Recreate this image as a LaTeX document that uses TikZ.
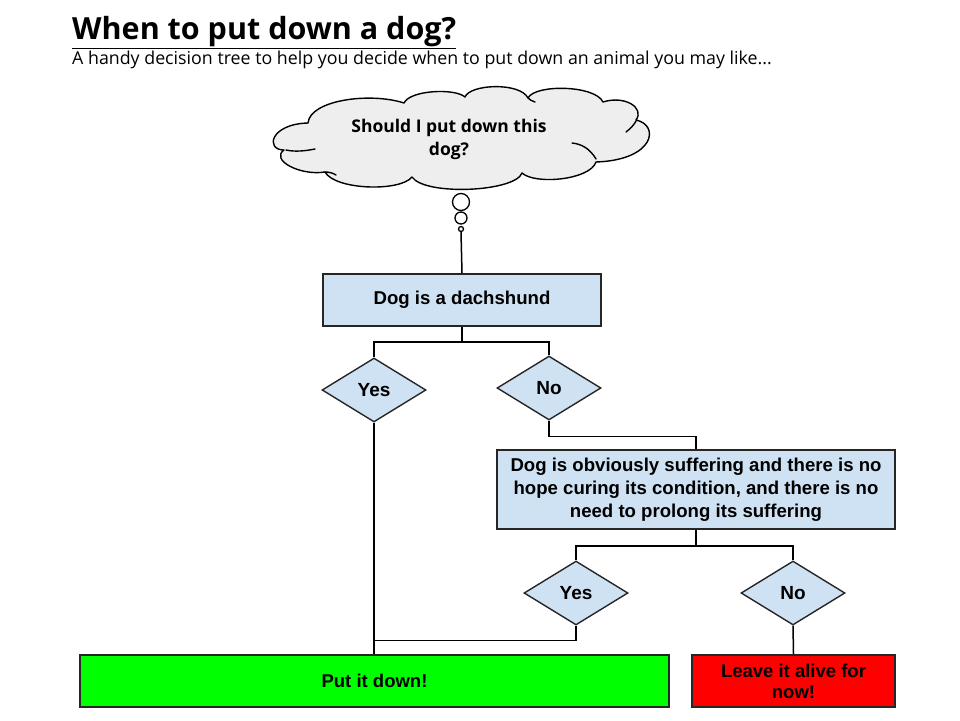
\documentclass[tikz,border=0pt]{standalone}
\usepackage{fontspec}
\setmainfont{Liberation Sans}
\newfontfamily\titlefont{Open Sans}
\usetikzlibrary{shapes.geometric}
\definecolor{boxblue}{HTML}{CFE2F3}
\definecolor{cloudgray}{HTML}{EEEEEE}
\definecolor{okgreen}{HTML}{00FF00}
\definecolor{nored}{HTML}{FF0000}
\tikzset{
  box/.style={draw=black!85, line width=1.6pt, fill=boxblue, align=center, font=\bfseries\fontsize{18.6}{23}\selectfont, inner sep=0pt},
  choice/.style={diamond, draw=black!85, line width=1.4pt, fill=boxblue, minimum width=104pt, minimum height=64pt, inner sep=0pt, font=\bfseries\fontsize{19}{22}\selectfont},
  conn/.style={line width=1.5pt, black},
  bubble/.style={circle, draw=black, line width=1.3pt, fill=white, inner sep=0pt},
  endbox/.style={box, minimum height=52pt, font=\bfseries\fontsize{18.5}{21}\selectfont},
  cloudline/.style={draw=black, line width=1.4pt, line join=round, line cap=round},
}
\begin{document}
\begin{tikzpicture}[x=1pt,y=-1pt]
\useasboundingbox (0,0) rectangle (960,720);
% title
\node[anchor=base west, inner sep=0pt, font=\titlefont\bfseries\fontsize{30.5}{34}\selectfont] (title) at (72,39) {\underline{When to put down a dog?}};
\node[anchor=base west, inner sep=0pt, font=\titlefont\fontsize{17.8}{20}\selectfont] (sub) at (72,64) {A handy decision tree to help you decide when to put down an animal you may like...};
% cloud outline
\path[cloudline, fill=cloudgray]
  (284,150) .. controls (265,150) and (270,124) .. (308,123)
  .. controls (310,100) and (370,92) .. (404,103)
  .. controls (410,90) and (455,88) .. (465,97)
  .. controls (470,84) and (520,82) .. (528,98)
  .. controls (535,84) and (595,85) .. (603,102)
  .. controls (625,95) and (645,108) .. (636,120)
  .. controls (660,125) and (655,160) .. (596,162)
  .. controls (590,180) and (535,185) .. (522,173)
  .. controls (515,192) and (425,196) .. (412,177)
  .. controls (400,192) and (335,190) .. (325,172)
  .. controls (300,176) and (270,160) .. (284,150) -- cycle;
% inner cloud strokes
\draw[cloudline] (286,150) .. controls (295,152) and (305,151) .. (315,149);
\draw[cloudline] (325,172) .. controls (329,172) and (333,173) .. (336,175);
\draw[cloudline] (572,143) .. controls (582,144) and (590,149) .. (596,159);
\draw[cloudline] (626,132) .. controls (630,129) and (634,125) .. (636,121);
\draw[cloudline] (528,98) .. controls (530,100) and (532,101) .. (535,102);
\node[inner sep=0pt, align=center, font=\titlefont\bfseries\fontsize{17.5}{23}\selectfont] (cloud) at (449,139) {Should I put down this\\dog?};
\node[bubble, minimum size=17pt] (c1) at (461,202) {};
\node[bubble, minimum size=12pt] (c2) at (461,218) {};
\node[bubble, minimum size=5pt] (c3) at (461,229) {};
% boxes
\node[box, minimum width=278pt, minimum height=52pt] (b1) at (462,300) {\raisebox{-1.5pt}{Dog is a dachshund}};
\node[choice] (y1) at (374,390) {\raisebox{-2pt}{Yes}};
\node[choice] (n1) at (549,388) {No};
\node[box, minimum width=398pt, minimum height=79pt] (b2) at (696,489.5) {Dog is obviously suffering and there is no\\hope curing its condition, and there is no\\need to prolong its suffering};
\node[choice] (y2) at (576,593) {Yes};
\node[choice] (n2) at (793,593) {No};
\node[endbox, fill=okgreen, minimum width=589pt] (g) at (374.5,681) {Put it down!};
\node[endbox, fill=nored, minimum width=203pt] (r) at (793.5,681) {Leave it alive for\\now!};
% connectors
\draw[conn] (c3.south) -- (b1.north);
\draw[conn] (b1.south) -- ++(0,15) coordinate (s1) -| (y1.north);
\draw[conn] (s1) -| (n1.north);
\coordinate (j) at (y1.south |- g.north);
\draw[conn] (y1.south) -- (j);
\draw[conn] (n1.south) -- ++(0,16) -| (b2.north);
\draw[conn] (b2.south) -- ++(0,16) coordinate (s2) -| (y2.north);
\draw[conn] (s2) -| (n2.north);
\draw[conn] (y2.south) -- ++(0,15) -| (j);
\draw[conn] (n2.south) -- (r.north);
\end{tikzpicture}
\end{document}
